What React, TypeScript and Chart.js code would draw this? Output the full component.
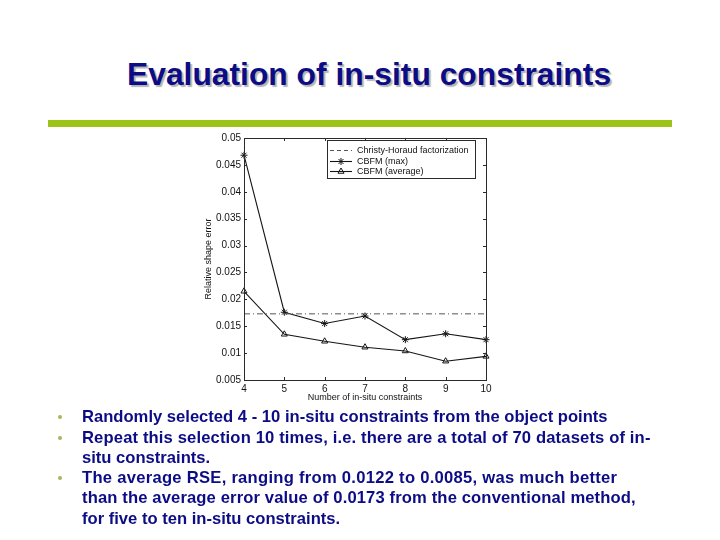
import React, { useEffect, useRef } from "react";
import { Chart, registerables } from "chart.js";
import { drawPoint } from "chart.js/helpers";

Chart.register(...registerables);

// ---- data ----
const xLabels = ["4", "5", "6", "7", "8", "9", "10"];
const christyHoraud = [0.0173, 0.0173, 0.0173, 0.0173, 0.0173, 0.0173, 0.0173];
const cbfmMax = [0.0468, 0.0176, 0.0155, 0.0169, 0.0125, 0.0136, 0.0125];
const cbfmAvg = [0.0215, 0.0135, 0.0122, 0.0111, 0.0104, 0.0085, 0.0094];
const yMin = 0.005;
const yMax = 0.05;
const yStep = 0.005;

const seriesNames = ["Christy-Horaud factorization", "CBFM (max)", "CBFM (average)"];
const xTitle = "Number of in-situ constraints";
const yTitle = "Relative shape error";

const FONT = '"Liberation Sans", Arial, Helvetica, sans-serif';

const frameTicks = {
  id: "frameTicks",
  afterDatasetsDraw(chart: any) {
    const { ctx, chartArea, scales } = chart;
    const { left, right, top, bottom } = chartArea;
    const x = scales.x;
    const y = scales.y;
    ctx.save();
    ctx.strokeStyle = "#2a2a2a";
    ctx.lineWidth = 1;
    ctx.strokeRect(Math.round(left) + 0.5, Math.round(top) + 0.5, Math.round(right - left), Math.round(bottom - top));
    ctx.beginPath();
    x.ticks.forEach((_t: any, i: number) => {
      const px = Math.round(x.getPixelForTick(i)) + 0.5;
      ctx.moveTo(px, bottom);
      ctx.lineTo(px, bottom - 3);
      ctx.moveTo(px, top);
      ctx.lineTo(px, top + 3);
    });
    y.ticks.forEach((_t: any, i: number) => {
      const py = Math.round(y.getPixelForTick(i)) + 0.5;
      ctx.moveTo(left, py);
      ctx.lineTo(left + 3, py);
      ctx.moveTo(right, py);
      ctx.lineTo(right - 3, py);
    });
    ctx.stroke();
    ctx.restore();
  },
};

const matlabLegend = {
  id: "matlabLegend",
  afterDraw(chart: any) {
    const { ctx, chartArea } = chart;
    const bx = Math.round(chartArea.right - 159);
    const by = Math.round(chartArea.top + 2);
    const bw = 148;
    const bh = 38;
    ctx.save();
    ctx.fillStyle = "#ffffff";
    ctx.fillRect(bx, by, bw, bh);
    ctx.strokeStyle = "#2a2a2a";
    ctx.lineWidth = 1;
    ctx.strokeRect(bx + 0.5, by + 0.5, bw, bh);
    chart.data.datasets.forEach((ds: any, i: number) => {
      const cy = Math.round(by + 10 + i * 10.5) + 0.5;
      ctx.strokeStyle = ds.borderColor;
      ctx.lineWidth = ds.borderWidth;
      ctx.setLineDash(i === 0 ? [4, 3] : []);
      ctx.beginPath();
      ctx.moveTo(bx + 3, cy);
      ctx.lineTo(bx + 25, cy);
      ctx.stroke();
      ctx.setLineDash([]);
      if (ds.pointRadius > 0) {
        ctx.strokeStyle = ds.pointBorderColor;
        ctx.fillStyle = ds.pointBackgroundColor;
        ctx.lineWidth = ds.pointBorderWidth;
        drawPoint(ctx, { pointStyle: ds.pointStyle, radius: ds.pointRadius, rotation: 0, borderWidth: ds.pointBorderWidth } as any, bx + 14, cy);
      }
      ctx.fillStyle = "#111";
      ctx.font = `9px ${FONT}`;
      ctx.textBaseline = "middle";
      ctx.textAlign = "left";
      ctx.fillText(ds.label, bx + 30, cy);
    });
    ctx.restore();
  },
};

const bulletLines = [
  { bullet: true, text: "Randomly selected 4 - 10 in-situ constraints from the object points", y: 417, spacing: 0 },
  { bullet: true, text: "Repeat this selection 10 times, i.e. there are a total of 70 datasets of in-", y: 438, spacing: 0.14 },
  { bullet: false, text: "situ constraints.", y: 458, spacing: 0 },
  { bullet: true, text: "The average RSE, ranging from 0.0122 to 0.0085, was much better", y: 478, spacing: 0.27 },
  { bullet: false, text: "than the average error value of 0.0173 from the conventional method,", y: 498, spacing: 0.13 },
  { bullet: false, text: "for five to ten in-situ constraints.", y: 519, spacing: 0 },
];

export default function App() {
  const ref = useRef<HTMLCanvasElement>(null);

  useEffect(() => {
    const chart = new Chart(ref.current as HTMLCanvasElement, {
      type: "line",
      data: {
        labels: xLabels,
        datasets: [
          {
            label: seriesNames[0],
            data: christyHoraud,
            borderColor: "#555555",
            borderWidth: 1,
            borderDash: [6, 3, 1, 3],
            pointRadius: 0,
            pointStyle: "line",
            pointBorderColor: "#555555",
            pointBackgroundColor: "#555555",
            pointBorderWidth: 1,
            tension: 0,
            clip: false,
          },
          {
            label: seriesNames[1],
            data: cbfmMax,
            borderColor: "#151515",
            borderWidth: 1.1,
            pointStyle: "star",
            pointRadius: 3.5,
            pointBorderColor: "#151515",
            pointBackgroundColor: "#151515",
            pointBorderWidth: 1,
            tension: 0,
            clip: false,
          },
          {
            label: seriesNames[2],
            data: cbfmAvg,
            borderColor: "#151515",
            borderWidth: 1.1,
            pointStyle: "triangle",
            pointRadius: 3.5,
            pointBorderColor: "#151515",
            pointBackgroundColor: "rgba(255,255,255,0)",
            pointBorderWidth: 1,
            tension: 0,
            clip: false,
          },
        ] as any,
      },
      options: {
        responsive: false,
        animation: false,
        devicePixelRatio: 1,
        layout: { padding: { top: 10, right: 14, left: 0, bottom: 0 } },
        plugins: { legend: { display: false }, tooltip: { enabled: false } },
        scales: {
          x: {
            type: "category",
            offset: false,
            grid: { display: false, drawTicks: false },
            border: { display: false },
            ticks: { padding: 3, color: "#111", font: { family: FONT, size: 10 }, maxRotation: 0, autoSkip: false },
            title: { display: true, text: xTitle, color: "#111", font: { family: FONT, size: 9 }, padding: { top: 0, bottom: 5 } },
            afterFit: (s: any) => {
              s.height = 28;
            },
          },
          y: {
            type: "linear",
            min: yMin,
            max: yMax,
            grid: { display: false, drawTicks: false },
            border: { display: false },
            ticks: {
              stepSize: yStep,
              padding: 3,
              color: "#111",
              font: { family: FONT, size: 10 },
              callback: (v: any) => String(Number(Number(v).toFixed(4))),
            },
            title: { display: true, text: yTitle, color: "#111", font: { family: FONT, size: 9 }, padding: { top: 13, bottom: 0 } },
            afterFit: (s: any) => {
              s.width = 54;
            },
          },
        },
      } as any,
      plugins: [frameTicks, matlabLegend],
    });
    return () => chart.destroy();
  }, []);

  return (
    <div
      style={{
        position: "absolute",
        left: 0,
        top: 0,
        width: 720,
        height: 540,
        background: "#ffffff",
        overflow: "hidden",
        fontFamily: FONT,
      }}
    >
      <div
        style={{
          position: "absolute",
          left: 127,
          top: 58,
          fontSize: "31.8px",
          lineHeight: "32px",
          fontWeight: "bold",
          color: "#0c0c86",
          textShadow: "2px 2px 1px #b4b4b4",
          whiteSpace: "nowrap",
        }}
      >
        Evaluation of in-situ constraints
      </div>
      <div style={{ position: "absolute", left: 48, top: 120, width: 624, height: 7, background: "#9cc418" }} />
      <canvas
        ref={ref}
        width={310}
        height={280}
        style={{ position: "absolute", left: 190, top: 128, width: 310, height: 280 }}
      />
      {bulletLines.map((l, i) => (
        <React.Fragment key={i}>
          {l.bullet && (
            <div
              style={{
                position: "absolute",
                left: 58,
                top: l.y - 2,
                width: 4,
                height: 4,
                borderRadius: 2,
                background: "#a9b65e",
              }}
            />
          )}
          <div
            style={{
              position: "absolute",
              left: 82,
              top: l.y - 10,
              fontSize: "16.6px",
              lineHeight: "20px",
              fontWeight: "bold",
              color: "#0c0c86",
              whiteSpace: "nowrap",
              letterSpacing: `${l.spacing}px`,
            }}
          >
            {l.text}
          </div>
        </React.Fragment>
      ))}
    </div>
  );
}
